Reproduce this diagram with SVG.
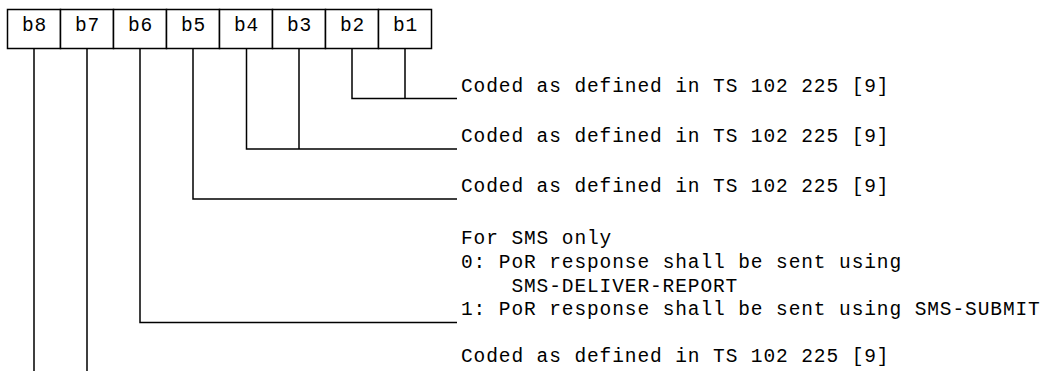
<svg xmlns="http://www.w3.org/2000/svg" width="1056" height="371" viewBox="0 0 1056 371">
<style>
.t{font-family:"Liberation Mono","Courier New",monospace;font-size:19.5px;letter-spacing:0.9px;fill:#000}
.c{text-anchor:middle}
.b{fill:#fff;stroke:#000;stroke-width:1.5}
.l{fill:none;stroke:#000;stroke-width:1.5}
</style>
<rect x="0" y="0" width="1056" height="371" fill="#fff"/>
<g id="byte">
<g id="b8"><rect class="b" x="7.5" y="9.5" width="53" height="39"/><text class="t c" x="34.5" y="31">b8</text></g>
<g id="b7"><rect class="b" x="60.5" y="9.5" width="53" height="39"/><text class="t c" x="87.5" y="31">b7</text></g>
<g id="b6"><rect class="b" x="113.5" y="9.5" width="53" height="39"/><text class="t c" x="140.5" y="31">b6</text></g>
<g id="b5"><rect class="b" x="166.5" y="9.5" width="53" height="39"/><text class="t c" x="193.5" y="31">b5</text></g>
<g id="b4"><rect class="b" x="219.5" y="9.5" width="53" height="39"/><text class="t c" x="246.5" y="31">b4</text></g>
<g id="b3"><rect class="b" x="272.5" y="9.5" width="53" height="39"/><text class="t c" x="299.5" y="31">b3</text></g>
<g id="b2"><rect class="b" x="325.5" y="9.5" width="53" height="39"/><text class="t c" x="352.5" y="31">b2</text></g>
<g id="b1"><rect class="b" x="378.5" y="9.5" width="53" height="39"/><text class="t c" x="405.5" y="31">b1</text></g>
</g>
<g id="connectors">
<path class="l" d="M352,48.5V98.5H457M405,48.5V98.5"/>
<path class="l" d="M246.5,48.5V149H457M299,48.5V149"/>
<path class="l" d="M193,48.5V199H457"/>
<path class="l" d="M140,48.5V322.5H457"/>
<path class="l" d="M34,48.5V371M87,48.5V371"/>
</g>
<g id="labels">
<text class="t" x="461" y="92">Coded as defined in TS 102 225 [9]</text>
<text class="t" x="461" y="142">Coded as defined in TS 102 225 [9]</text>
<text class="t" x="461" y="192">Coded as defined in TS 102 225 [9]</text>
<text class="t" x="461" y="244">For SMS only</text>
<text class="t" x="461" y="268">0: PoR response shall be sent using</text>
<text class="t" x="511.4" y="291.5">SMS-DELIVER-REPORT</text>
<text class="t" x="461" y="315">1: PoR response shall be sent using SMS-SUBMIT</text>
<text class="t" x="461" y="362">Coded as defined in TS 102 225 [9]</text>
</g>
</svg>
